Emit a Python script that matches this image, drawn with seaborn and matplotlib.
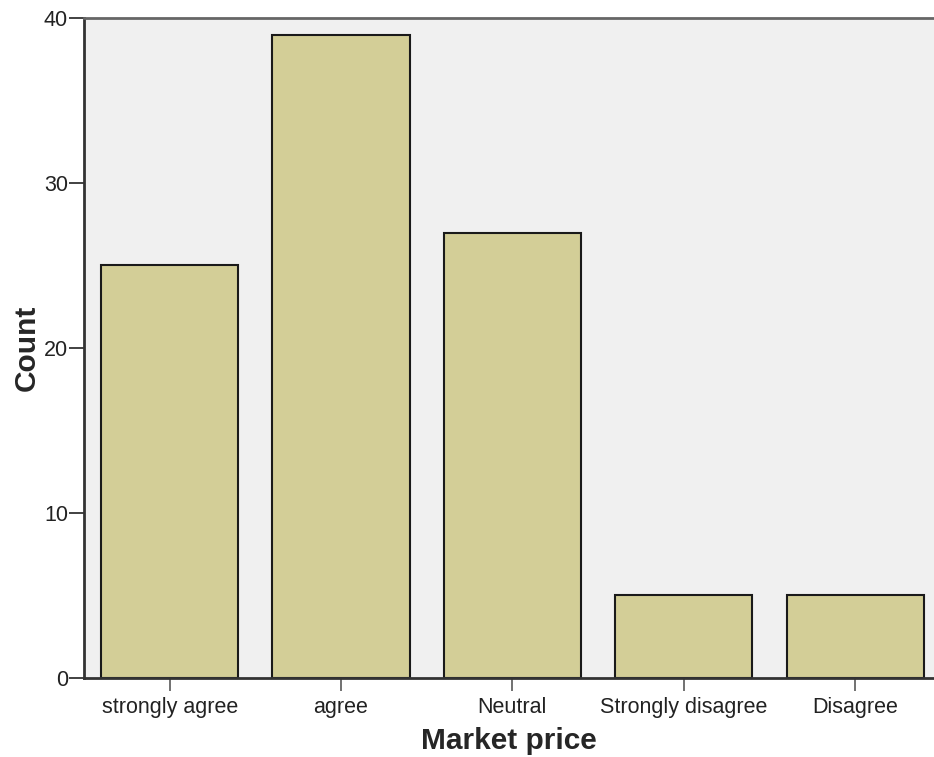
import matplotlib
matplotlib.use('Agg')
import matplotlib.pyplot as plt
import seaborn as sns
import pandas as pd

# values
categories = ['strongly agree', 'agree', 'Neutral', 'Strongly disagree', 'Disagree']
counts = [25, 39, 27, 5, 5]

df = pd.DataFrame({'Market price': categories, 'Count': counts})

sns.set_style('white')
plt.rcParams['font.family'] = ['Liberation Sans', 'DejaVu Sans']

fig = plt.figure(figsize=(9.34, 7.57), dpi=100)
ax = fig.add_axes([0.0899, 0.1044, 0.9101, 0.8718])
ax.set_facecolor('#F0F0F0')

sns.barplot(data=df, x='Market price', y='Count', color='#D3CE97',
            edgecolor='#1a1a1a', linewidth=1.5, width=0.8, saturation=1, ax=ax)

ax.set_xlim(-0.5, 4.46)
ax.set_ylim(0, 40)
ax.set_yticks([0, 10, 20, 30, 40])

for side in ['left', 'bottom']:
    ax.spines[side].set_color('#333333')
    ax.spines[side].set_linewidth(2)
ax.spines['top'].set_color('#666666')
ax.spines['top'].set_linewidth(2)
ax.spines['right'].set_visible(False)

ax.tick_params(axis='y', direction='out', length=11, width=1.3, color='#333333',
               pad=0.5, labelsize=15.5, labelcolor='#222222', left=True)
ax.tick_params(axis='x', direction='out', length=9.5, width=1.3, color='#666666',
               pad=4, labelsize=15.5, labelcolor='#222222', bottom=True)
ax.set_xlabel('Market price', fontsize=21.5, fontweight='bold', labelpad=7)
ax.set_ylabel('Count', fontsize=21.5, fontweight='bold', labelpad=2)

fig.savefig('out.png', dpi=100)
